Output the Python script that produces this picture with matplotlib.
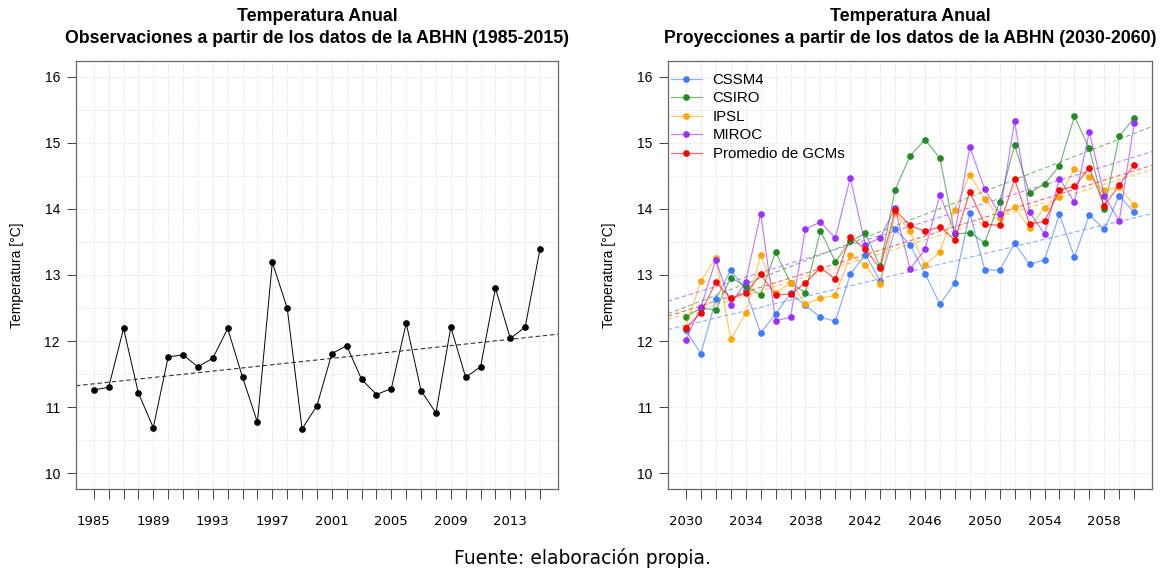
import numpy as np
import matplotlib
matplotlib.use("Agg")
import matplotlib.pyplot as plt

plt.rcParams["font.family"] = ["Liberation Sans", "DejaVu Sans"]

# observed annual temperature, 1985-2015
obs_years = list(range(1985, 2016))
obs_temp = [11.26, 11.30, 12.19, 11.21, 10.69, 11.76, 11.79, 11.61, 11.74, 12.19,
            11.45, 10.77, 13.19, 12.50, 10.67, 11.02, 11.81, 11.93, 11.42, 11.19,
            11.28, 12.27, 11.25, 10.91, 12.21, 11.45, 11.61, 12.80, 12.04, 12.21,
            13.40]

# projections, 2030-2060
proj_years = list(range(2030, 2061))
cssm4 = [12.16, 11.81, 12.63, 13.08, 12.77, 12.12, 12.41, 12.72, 12.54, 12.36,
         12.30, 13.01, 13.31, 12.91, 13.69, 13.46, 13.02, 12.56, 12.88, 13.94,
         13.08, 13.07, 13.48, 13.16, 13.23, 13.92, 13.27, 13.91, 13.69, 14.20,
         13.95]
csiro = [12.37, 12.50, 12.47, 12.96, 12.83, 12.70, 13.35, 12.88, 12.73, 13.67,
         13.20, 13.51, 13.63, 13.13, 14.29, 14.80, 15.05, 14.77, 13.62, 13.64,
         13.49, 14.11, 14.97, 14.24, 14.38, 14.65, 15.40, 14.92, 14.00, 15.10,
         15.38]
ipsl = [12.22, 12.91, 13.26, 12.03, 12.42, 13.31, 12.73, 12.88, 12.56, 12.65,
        12.69, 13.30, 13.15, 12.86, 13.94, 13.66, 13.15, 13.35, 13.99, 14.52,
        14.15, 13.87, 14.03, 13.71, 14.02, 14.18, 14.61, 14.49, 14.28, 14.33,
        14.06]
miroc = [12.02, 12.51, 13.23, 12.55, 12.90, 13.93, 12.31, 12.36, 13.70, 13.80,
         13.56, 14.47, 13.46, 13.56, 14.01, 13.09, 13.39, 14.21, 13.64, 14.94,
         14.30, 13.92, 15.33, 13.95, 13.62, 14.46, 14.10, 15.17, 14.20, 13.82,
         15.30]
promedio = [12.20, 12.43, 12.89, 12.65, 12.72, 13.01, 12.70, 12.71, 12.88, 13.11,
            12.94, 13.58, 13.39, 13.10, 13.98, 13.75, 13.66, 13.73, 13.53, 14.26,
            13.77, 13.75, 14.45, 13.77, 13.81, 14.29, 14.34, 14.62, 14.05, 14.36,
            14.67]

series_names = ["CSSM4", "CSIRO", "IPSL", "MIROC", "Promedio de GCMs"]
series_values = [cssm4, csiro, ipsl, miroc, promedio]
series_colors = ["#3f7bff", "#228b22", "#ffa500", "#9b30ff", "#ff0000"]


def setup_axes(ax, years, title):
    x0, x1 = years[0], years[-1]
    pad = (x1 - x0) * 0.04
    ax.set_xlim(x0 - pad, x1 + pad)
    ax.set_ylim(10 - 0.24, 16 + 0.24)
    for y in np.arange(10, 16.01, 0.5):
        ax.axhline(y, color="#d8d8d8", lw=0.7, ls=":", zorder=0)
    for x in years:
        ax.axvline(x, color="#d8d8d8", lw=0.7, ls=":", zorder=0)
    ax.set_xticks(years)
    ax.set_xticklabels([str(y) if (y - x0) % 4 == 0 else "" for y in years],
                       family="DejaVu Sans", fontsize=9.5)
    ax.set_yticks(range(10, 17))
    ax.set_yticklabels([str(v) for v in range(10, 17)], fontsize=10)
    ax.tick_params(axis="x", length=7.5, width=0.7, color="#444444", pad=11)
    ax.tick_params(axis="y", length=6.5, width=0.7, color="#444444", pad=5)
    for sp in ax.spines.values():
        sp.set_color("#666666")
        sp.set_linewidth(0.9)
    ax.set_ylabel("Temperatura [°C]", fontsize=10, labelpad=15)
    ax.set_title(title, fontsize=12.8, fontweight="bold", pad=13, linespacing=1.35)


def trend(ax, years, values, color, alpha):
    slope, icpt = np.polyfit(years, values, 1)
    xl = np.array(ax.get_xlim())
    ax.plot(xl, slope * xl + icpt, ls="--", lw=0.8, color=color, alpha=alpha,
            dashes=(4, 2.5), zorder=2)


fig = plt.figure(figsize=(11.65, 5.75), dpi=100)
ax1 = fig.add_axes([0.0652, 0.1496, 0.4137, 0.7443])
ax2 = fig.add_axes([0.5734, 0.1496, 0.4155, 0.7443])

setup_axes(ax1, obs_years,
           "Temperatura Anual\nObservaciones a partir de los datos de la ABHN (1985-2015)")
ax1.plot(obs_years, obs_temp, color="black", lw=0.7, marker="o", ms=3.8, zorder=3)
trend(ax1, obs_years, obs_temp, "black", 0.8)

setup_axes(ax2, proj_years,
           "Temperatura Anual\nProyecciones a partir de los datos de la ABHN (2030-2060)")
handles = []
for name, vals, col in zip(series_names, series_values, series_colors):
    rgba = matplotlib.colors.to_rgba(col, 0.6)
    h, = ax2.plot(proj_years, vals, color=rgba, lw=0.9, marker="o", ms=3.8,
                  mfc=col, mec=col, label=name, zorder=3)
    handles.append(h)
    trend(ax2, proj_years, vals, col, 0.6)

ax2.legend(handles=handles, loc="upper left", frameon=False, fontsize=10.8,
           handlelength=2.1, handletextpad=0.7, labelspacing=0.3,
           borderpad=0.2, borderaxespad=0.3, bbox_to_anchor=(-0.01, 0.99))

fig.text(0.5, 0.03, "Fuente: elaboración propia.", ha="center", va="center",
         fontsize=13.5, family="DejaVu Sans")

fig.savefig("out.png", dpi=100)
